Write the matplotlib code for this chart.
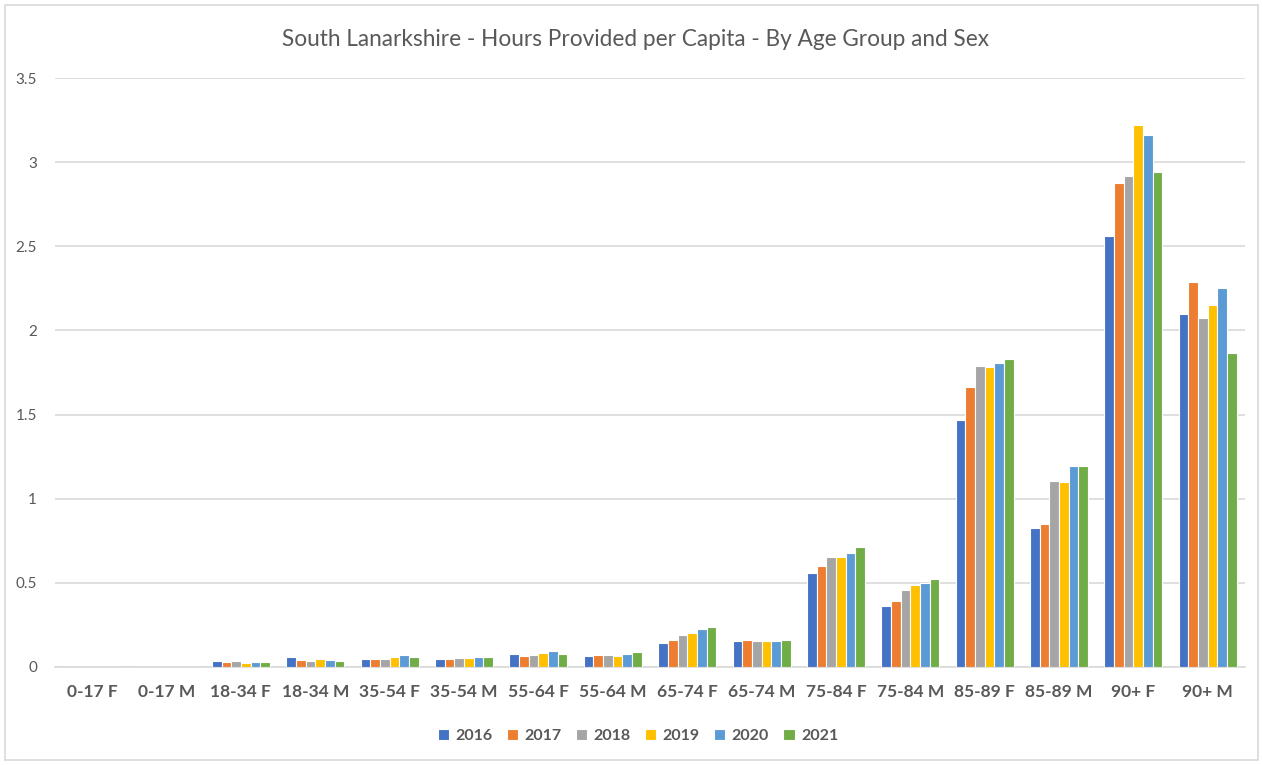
import matplotlib
matplotlib.use("Agg")
import matplotlib.pyplot as plt
import numpy as np
from matplotlib.patches import Rectangle

categories = ["0-17 F", "0-17 M", "18-34 F", "18-34 M", "35-54 F", "35-54 M",
              "55-64 F", "55-64 M", "65-74 F", "65-74 M", "75-84 F", "75-84 M",
              "85-89 F", "85-89 M", "90+ F", "90+ M"]
years = ["2016", "2017", "2018", "2019", "2020", "2021"]

v2016 = [0.0, 0.0, 0.033, 0.057, 0.045, 0.045, 0.078, 0.068, 0.140, 0.152, 0.557, 0.363, 1.467, 0.825, 2.564, 2.097]
v2017 = [0.0, 0.0, 0.027, 0.039, 0.045, 0.045, 0.068, 0.072, 0.162, 0.162, 0.600, 0.394, 1.661, 0.852, 2.877, 2.285]
v2018 = [0.0, 0.0, 0.033, 0.033, 0.045, 0.051, 0.072, 0.072, 0.189, 0.152, 0.652, 0.458, 1.790, 1.108, 2.917, 2.073]
v2019 = [0.0, 0.0, 0.021, 0.045, 0.057, 0.051, 0.084, 0.066, 0.205, 0.152, 0.652, 0.489, 1.784, 1.102, 3.222, 2.152]
v2020 = [0.0, 0.0, 0.027, 0.039, 0.074, 0.062, 0.098, 0.078, 0.223, 0.152, 0.680, 0.501, 1.806, 1.197, 3.161, 2.251]
v2021 = [0.0, 0.0, 0.027, 0.033, 0.057, 0.057, 0.078, 0.092, 0.235, 0.158, 0.713, 0.523, 1.829, 1.197, 2.943, 1.867]
series = [v2016, v2017, v2018, v2019, v2020, v2021]
colors = ["#4472C4", "#ED7D31", "#A5A5A5", "#FFC000", "#5B9BD5", "#70AD47"]

plt.rcParams['font.family'] = ['Lato', 'DejaVu Sans']

fig = plt.figure(figsize=(12.63, 7.65), dpi=100)
ax = fig.add_axes([55/1263, 1 - 667/765, (1245 - 55)/1263, (667 - 78)/765])

x = np.arange(len(categories))
w = 0.13
for i, (vals, c, yr) in enumerate(zip(series, colors, years)):
    ax.bar(x + (i - 2.5) * w, vals, width=w, color=c, edgecolor="white",
           linewidth=0.8, label=yr, zorder=3)

ax.set_xlim(-0.5, len(categories) - 0.5)
ax.set_ylim(0, 3.5)
ax.set_yticks([0, 0.5, 1, 1.5, 2, 2.5, 3, 3.5])
ax.set_yticklabels(["0", "0.5", "1", "1.5", "2", "2.5", "3", "3.5"])
ax.set_xticks(x)
ax.set_xticklabels(categories, fontweight="bold", fontsize=12.5)
ax.grid(axis="y", color="#D9D9D9", linewidth=1.2, zorder=0)
for s in ["top", "right", "left"]:
    ax.spines[s].set_visible(False)
ax.spines["bottom"].set_color("#D9D9D9")
ax.spines["bottom"].set_linewidth(1.2)
ax.tick_params(axis="both", length=0, colors="#595959", labelsize=11)
ax.tick_params(axis="x", pad=12, labelsize=12.5)
ax.tick_params(axis="y", pad=13)

fig.text(635/1263, 1 - 40/765, "South Lanarkshire - Hours Provided per Capita - By Age Group and Sex",
         ha="center", va="center", fontsize=16.3, color="#595959")

leg = fig.legend(loc="center", bbox_to_anchor=(638/1263, 1 - 736/765), ncol=6,
                 frameon=False, fontsize=11.5, handlelength=0.7, handleheight=0.7,
                 columnspacing=0.9, handletextpad=0.4)
for t in leg.get_texts():
    t.set_color("#595959")
    t.set_fontweight("bold")

fig.patches.append(Rectangle((5/1263, 5/765), 1253/1263, 755/765, transform=fig.transFigure,
                             fill=False, edgecolor="#D9D9D9", linewidth=1.2))

fig.savefig("out.png", dpi=100, facecolor="white")
